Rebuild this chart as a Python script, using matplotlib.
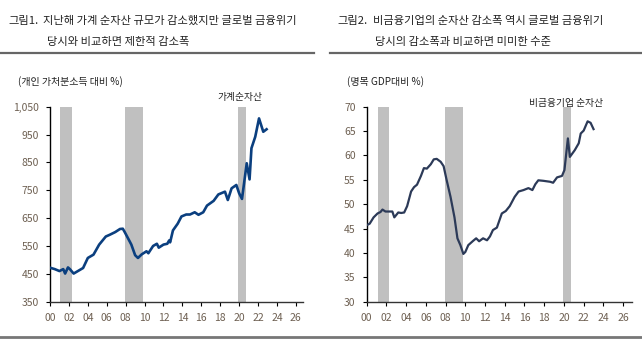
import matplotlib
matplotlib.use('Agg')
import matplotlib.pyplot as plt
from matplotlib.lines import Line2D

plt.rcParams['font.family'] = ['Noto Sans CJK KR', 'DejaVu Sans']

# household net worth, % of disposable income
hh_years = [2000.0, 2000.5, 2001.0, 2001.4, 2001.6, 2001.9, 2002.1, 2002.5, 2003.0, 2003.5,
            2004.0, 2004.6, 2005.2, 2005.9, 2006.3, 2006.9, 2007.4, 2007.7, 2007.9, 2008.4,
            2008.6, 2009.0, 2009.3, 2009.7, 2010.2, 2010.4, 2010.9, 2011.3, 2011.5, 2012.0,
            2012.4, 2012.6, 2012.7, 2013.0, 2013.5, 2013.9, 2014.4, 2014.8, 2015.3, 2015.7,
            2016.2, 2016.6, 2017.3, 2017.8, 2018.5, 2018.8, 2019.2, 2019.7, 2020.0, 2020.3,
            2020.8, 2021.1, 2021.3, 2021.7, 2022.1, 2022.55, 2022.9]
hh_values = [472, 467, 460, 467, 451, 473, 467, 451, 461, 471,
             507, 519, 555, 584, 590, 600, 611, 612, 600, 568,
             555, 517, 507, 520, 531, 524, 550, 558, 544, 555,
             558, 570, 563, 606, 630, 656, 663, 663, 671, 662,
             671, 695, 712, 735, 745, 715, 757, 769, 739, 719,
             847, 789, 901, 942, 1008, 960, 969]

# non-financial corporate net worth, % of nominal GDP
nf_years = [2000.0, 2000.3, 2000.7, 2001.1, 2001.4, 2001.6, 2001.9, 2002.4, 2002.6, 2002.8,
            2003.2, 2003.5, 2003.8, 2004.1, 2004.5, 2004.8, 2005.1, 2005.5, 2005.8, 2006.1,
            2006.5, 2006.8, 2007.1, 2007.5, 2007.8, 2008.1, 2008.5, 2008.9, 2009.2, 2009.5,
            2009.8, 2010.0, 2010.3, 2010.8, 2011.1, 2011.4, 2011.8, 2012.2, 2012.5, 2012.8,
            2013.2, 2013.7, 2014.1, 2014.5, 2015.0, 2015.4, 2015.9, 2016.4, 2016.8, 2017.1,
            2017.4, 2017.9, 2018.6, 2018.9, 2019.3, 2019.8, 2020.05, 2020.4, 2020.6, 2021.1,
            2021.5, 2021.7, 2022.0, 2022.4, 2022.7, 2023.0]
nf_values = [45.7, 46.0, 47.3, 48.1, 48.4, 48.9, 48.5, 48.5, 48.5, 47.3,
             48.3, 48.2, 48.3, 49.6, 52.6, 53.5, 54.0, 55.8, 57.4, 57.3,
             58.2, 59.2, 59.3, 58.7, 57.8, 55.0, 51.5, 47.3, 43.0, 41.6,
             39.8, 40.2, 41.6, 42.5, 43.0, 42.4, 43.0, 42.6, 43.4, 44.7,
             45.2, 48.1, 48.6, 49.6, 51.5, 52.6, 52.9, 53.3, 52.9, 54.1,
             54.9, 54.8, 54.6, 54.4, 55.5, 55.8, 57.0, 63.5, 59.7, 61.1,
             62.5, 64.5, 65.1, 67.0, 66.7, 65.4]

# US recessions
recessions = [(2001.1, 2002.3), (2007.9, 2009.8), (2019.9, 2020.75)]

x_ticks = list(range(2000, 2027, 2))
x_labels = ['%02d' % (y % 100) for y in x_ticks]

W, H = 642, 340
fig = plt.figure(figsize=(W / 100, H / 100), dpi=100)

def fx(x):
    return x / W

def fy(y):
    return 1 - y / H

tick_color = '#6e6052'
text_color = '#222222'


def setup_axes(ax, ylim, yticks, ylabels, xmax):
    for a, b in recessions:
        ax.axvspan(a, b, color='#c0c0c0', lw=0, zorder=0)
    ax.set_xlim(2000, xmax)
    ax.set_ylim(*ylim)
    ax.set_xticks(x_ticks)
    ax.set_xticklabels(x_labels)
    ax.set_yticks(yticks)
    ax.set_yticklabels(ylabels)
    for s in ['top', 'right']:
        ax.spines[s].set_visible(False)
    ax.spines['left'].set_linewidth(1.0)
    ax.spines['bottom'].set_linewidth(1.0)
    ax.spines['bottom'].set_color('#333333')
    ax.tick_params(axis='both', direction='out', length=3, width=0.8,
                   labelsize=7.5, labelcolor=tick_color, pad=5)
    ax.patch.set_alpha(0)


# left panel
ax1 = fig.add_axes([fx(50), fy(301.7), fx(253), 195 / H])
ax1.plot(hh_years, hh_values, color='#0b3f7f', lw=1.9, zorder=3)
setup_axes(ax1, (350, 1050), [350, 450, 550, 650, 750, 850, 950, 1050],
           ['350', '450', '550', '650', '750', '850', '950', '1,050'], 2026.75)
fig.text(fx(240), fy(97), '가계순자산', ha='center', va='center',
         fontsize=7, color=text_color)

# right panel
ax2 = fig.add_axes([fx(366.7), fy(301.7), fx(265.3), 195 / H])
ax2.plot(nf_years, nf_values, color='#2c3a58', lw=1.6, zorder=3)
setup_axes(ax2, (30, 70), list(range(30, 71, 5)),
           [str(v) for v in range(30, 71, 5)], 2026.9)
fig.text(fx(566.5), fy(103), '비금융기업 순자산', ha='center', va='center',
         fontsize=7, color=text_color)

# titles
title_kw = dict(fontsize=8.1, color=text_color, va='center')
fig.text(fx(8), fy(21), '그림1.', **title_kw)
fig.text(fx(43), fy(21), '지난해 가계 순자산 규모가 감소했지만 글로벌 금융위기', **title_kw)
fig.text(fx(47), fy(42), '당시와 비교하면 제한적 감소폭', **title_kw)
fig.text(fx(337), fy(21), '그림2.', **title_kw)
fig.text(fx(373), fy(21), '비금융기업의 순자산 감소폭 역시 글로벌 금융위기', **title_kw)
fig.text(fx(375), fy(42), '당시의 감소폭과 비교하면 미미한 수준', **title_kw)

# unit labels
fig.text(fx(18), fy(82), '(개인 가처분소득 대비 %)', fontsize=7.2, color=text_color, va='center')
fig.text(fx(347), fy(82), '(명목 GDP대비 %)', fontsize=7.2, color=text_color, va='center')

# rules under titles and at the bottom
fig.add_artist(Line2D([fx(0), fx(314)], [fy(53), fy(53)], color='#666666', lw=1.6))
fig.add_artist(Line2D([fx(330), fx(642)], [fy(53), fy(53)], color='#666666', lw=1.6))
fig.add_artist(Line2D([fx(0), fx(642)], [fy(337), fy(337)], color='#777777', lw=2.0))

fig.savefig('out.png', dpi=100)
